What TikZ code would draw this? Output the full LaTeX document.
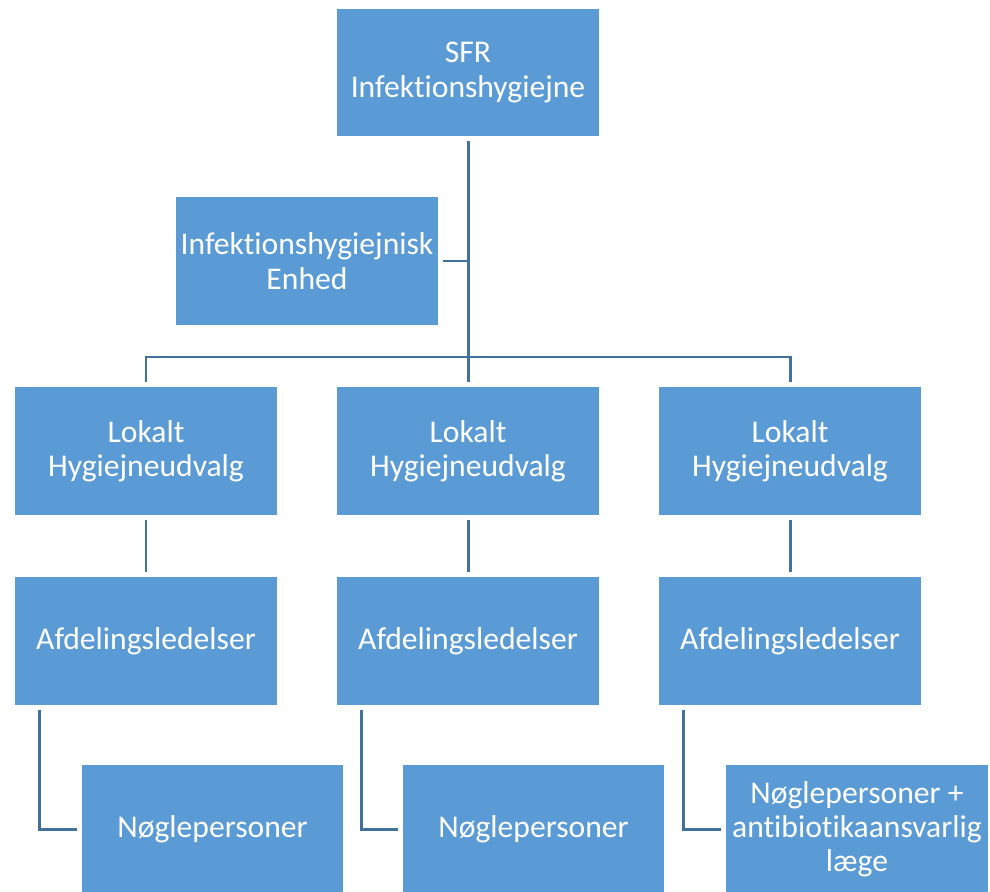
\documentclass[tikz,border=0pt]{standalone}
\usepackage{fontspec}
\setmainfont{Carlito}[RawFeature=-liga, RawFeature=-clig, RawFeature=-calt, RawFeature=-dlig]
\usepackage{tikz}
\usepackage{xcolor}
\usetikzlibrary{calc,positioning}
\definecolor{boxblue}{RGB}{91,155,213}
\definecolor{lineblue}{RGB}{65,113,156}
\tikzset{orgbox/.style={inner sep=0pt, outer sep=0pt, fill=boxblue, text=white,
        minimum width=5.24cm, minimum height=2.56cm, align=center,
        font=\fontsize{18}{19.5}\selectfont}}
\tikzset{conn/.style={draw=lineblue, line width=1.7pt}}

\begin{document}
\begin{tikzpicture}[x=0.02cm, y=-0.02cm]
    \useasboundingbox (0, 0) rectangle (990, 892);
    % top of the chart
    \node[orgbox] (sfr) at (468, 72.5) {SFR\\Infektionshygiejne};
    \node[orgbox] (enhed) at (307, 261) {Infektionshygiejnisk\\Enhed};
    % local committees
    \node[orgbox] (lok1) at (146, 451) {Lokalt\\Hygiejneudvalg};
    \node[orgbox] (lok2) at (468, 451) {Lokalt\\Hygiejneudvalg};
    \node[orgbox] (lok3) at (790, 451) {Lokalt\\Hygiejneudvalg};
    % department management
    \node[orgbox] (afd1) at (146, 641) {Afdelingsledelser};
    \node[orgbox] (afd2) at (468, 641) {Afdelingsledelser};
    \node[orgbox] (afd3) at (790, 641) {Afdelingsledelser};
    % key persons
    \node[orgbox] (noeg1) at (212.5, 829) {Nøglepersoner};
    \node[orgbox] (noeg2) at (533.5, 829) {Nøglepersoner};
    \node[orgbox] (noeg3) at (857, 829) {Nøglepersoner +\\antibiotikaansvarlig\\læge};
    % connectors
    \coordinate (bus) at (468, 357);
    \draw[conn] ([yshift=-0.1cm]sfr.south) -- ([yshift=0.1cm]lok2.north);
    \draw[conn] ([xshift=0.1cm]enhed.east) -- (enhed.east -| sfr.south);
    \draw[conn] ([yshift=0.1cm]lok1.north) |- (bus) -| ([yshift=0.1cm]lok3.north);
    \draw[conn] ([yshift=-0.1cm]lok1.south) -- ([yshift=0.1cm]afd1.north);
    \draw[conn] ([yshift=-0.1cm]lok2.south) -- ([yshift=0.1cm]afd2.north);
    \draw[conn] ([yshift=-0.1cm]lok3.south) -- ([yshift=0.1cm]afd3.north);
    \draw[conn] ([xshift=0.48cm, yshift=-0.1cm]afd1.south west) |- ([xshift=-0.1cm]noeg1.west);
    \draw[conn] ([xshift=0.48cm, yshift=-0.1cm]afd2.south west) |- ([xshift=-0.1cm]noeg2.west);
    \draw[conn] ([xshift=0.48cm, yshift=-0.1cm]afd3.south west) |- ([xshift=-0.1cm]noeg3.west);
\end{tikzpicture}
\end{document}
